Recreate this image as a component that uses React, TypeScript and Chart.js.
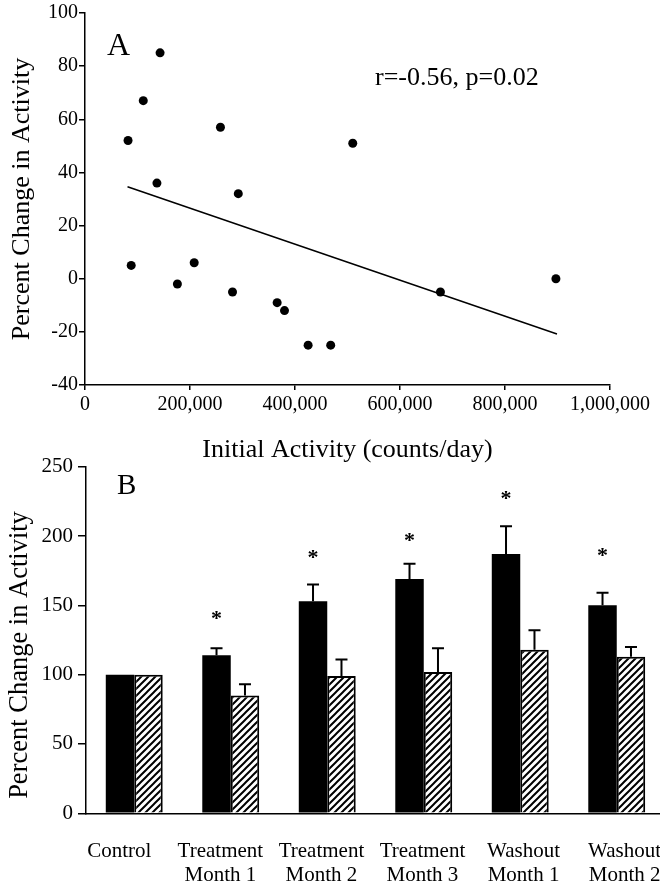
import React, { useEffect, useRef } from 'react';
import { Chart, registerables } from 'chart.js';

Chart.register(...registerables);

const SERIF = "'Liberation Serif', 'Times New Roman', Times, serif";
const INK = '#000';

// ---- Panel A: initial activity vs percent change ----
const initialActivity = [82000, 88000, 111000, 137000, 143000, 176000, 208000, 258000, 281000, 292000, 366000, 380000, 425000, 468000, 510000, 677000, 897000];
const percentChange = [52, 5, 67, 36, 85, -2, 6, 57, -5, 32, -9, -12, -25, -25, 51, -5, 0];
const fitLineX = [81000, 899000];
const fitLineY = [34.6, -20.8];
const activityTicks = [0, 200000, 400000, 600000, 800000, 1000000];
const changeTicksA = [-40, -20, 0, 20, 40, 60, 80, 100];
const correlationNote = 'r=-0.56, p=0.02';

// ---- Panel B: percent change by study period ----
const periods: string[][] = [
  ['Control'],
  ['Treatment', 'Month 1'],
  ['Treatment', 'Month 2'],
  ['Treatment', 'Month 3'],
  ['Washout', 'Month 1'],
  ['Washout', 'Month 2'],
];
const solidMean = [100, 114, 153, 169, 187, 150];
const solidErr = [0, 5, 12, 11, 20, 9];
const hatchedMean = [100, 85, 99, 102, 118, 113];
const hatchedErr = [0, 8, 12, 17, 14, 7];
const starLevel: (number | null)[] = [null, 143, 187, 199, 229, 188];
const changeTicksB = [0, 50, 100, 150, 200, 250];

type Note = {
  text: string;
  x: number;
  y: number;
  size: number;
  rotate?: boolean;
  align?: CanvasTextAlign;
  baseline?: CanvasTextBaseline;
};

function notesPlugin(id: string, notes: Note[]) {
  return {
    id,
    afterDraw(chart: Chart) {
      const { ctx } = chart;
      notes.forEach((n) => {
        ctx.save();
        ctx.fillStyle = INK;
        ctx.font = `${n.size}px ${SERIF}`;
        ctx.textAlign = n.align ?? 'left';
        ctx.textBaseline = n.baseline ?? 'alphabetic';
        ctx.translate(n.x, n.y);
        if (n.rotate) ctx.rotate(-Math.PI / 2);
        ctx.fillText(n.text, 0, 0);
        ctx.restore();
      });
    },
  };
}

const errorBarPlugin = {
  id: 'errorBars',
  afterDatasetsDraw(chart: Chart) {
    const { ctx } = chart;
    const yScale = chart.scales.y;
    const sets = [
      { means: solidMean, errs: solidErr },
      { means: hatchedMean, errs: hatchedErr },
    ];
    ctx.save();
    ctx.strokeStyle = INK;
    ctx.lineWidth = 2;
    sets.forEach((s, di) => {
      const bars = chart.getDatasetMeta(di).data as any[];
      bars.forEach((bar, i) => {
        const e = s.errs[i];
        if (!e) return;
        const yMean = yScale.getPixelForValue(s.means[i]);
        const yTop = yScale.getPixelForValue(s.means[i] + e);
        ctx.beginPath();
        ctx.moveTo(bar.x, yMean);
        ctx.lineTo(bar.x, yTop);
        ctx.moveTo(bar.x - 6, yTop);
        ctx.lineTo(bar.x + 6, yTop);
        ctx.stroke();
      });
    });
    ctx.restore();
  },
};

const starPlugin = {
  id: 'stars',
  afterDatasetsDraw(chart: Chart) {
    const { ctx } = chart;
    const yScale = chart.scales.y;
    const bars = chart.getDatasetMeta(0).data as any[];
    ctx.save();
    ctx.fillStyle = INK;
    ctx.font = `bold 22px ${SERIF}`;
    ctx.textAlign = 'center';
    ctx.textBaseline = 'alphabetic';
    const m = ctx.measureText('*');
    const mid = (m.actualBoundingBoxAscent - m.actualBoundingBoxDescent) / 2;
    starLevel.forEach((lvl, i) => {
      if (lvl == null) return;
      ctx.fillText('*', bars[i].x, yScale.getPixelForValue(lvl) + mid);
    });
    ctx.restore();
  },
};

function makeHatch(): CanvasPattern | string {
  const c = document.createElement('canvas');
  c.width = 7;
  c.height = 7;
  const g = c.getContext('2d');
  if (!g) return '#fff';
  g.fillStyle = '#fff';
  g.fillRect(0, 0, 7, 7);
  g.strokeStyle = INK;
  g.lineWidth = 2;
  g.beginPath();
  g.moveTo(0, 7);
  g.lineTo(7, 0);
  g.moveTo(-1, 1);
  g.lineTo(1, -1);
  g.moveTo(6, 8);
  g.lineTo(8, 6);
  g.stroke();
  return g.createPattern(c, 'repeat') ?? '#fff';
}

const tickFont = (size: number) => ({ family: SERIF, size });

export default function App() {
  const refA = useRef<HTMLCanvasElement>(null);
  const refB = useRef<HTMLCanvasElement>(null);

  useEffect(() => {
    const chartA = new Chart(refA.current!, {
      type: 'scatter',
      data: {
        datasets: [
          {
            data: initialActivity.map((x, i) => ({ x, y: percentChange[i] })),
            pointRadius: 4.5,
            pointHoverRadius: 4.5,
            backgroundColor: INK,
            borderColor: INK,
            borderWidth: 0,
          },
          {
            type: 'line',
            data: fitLineX.map((x, i) => ({ x, y: fitLineY[i] })),
            borderColor: INK,
            borderWidth: 1.5,
            pointRadius: 0,
            fill: false,
          } as any,
        ],
      },
      options: {
        responsive: false,
        animation: false,
        events: [],
        layout: { padding: { top: 13, right: 50, left: 0, bottom: 0 } },
        plugins: { legend: { display: false }, tooltip: { enabled: false } },
        scales: {
          x: {
            type: 'linear',
            min: 0,
            max: 1000000,
            afterBuildTicks: (s: any) => {
              s.ticks = activityTicks.map((value) => ({ value }));
            },
            afterFit: (s: any) => {
              s.height = 85;
            },
            grid: { drawOnChartArea: false, drawTicks: true, tickLength: 5, color: INK, lineWidth: 1.5 },
            border: { display: true, color: INK, width: 1.5 },
            ticks: {
              autoSkip: false,
              maxRotation: 0,
              padding: 3,
              color: INK,
              font: tickFont(20),
              callback: (v: any) => Number(v).toLocaleString('en-US'),
            },
            title: {
              display: true,
              text: 'Initial Activity (counts/day)',
              color: INK,
              font: { family: SERIF, size: 26 },
              padding: { top: 0, bottom: 4 },
            },
          },
          y: {
            type: 'linear',
            min: -40,
            max: 100,
            afterBuildTicks: (s: any) => {
              s.ticks = changeTicksA.map((value) => ({ value }));
            },
            afterFit: (s: any) => {
              s.width = 85;
            },
            grid: { drawOnChartArea: false, drawTicks: true, tickLength: 6, color: INK, lineWidth: 1.5 },
            border: { display: true, color: INK, width: 1.5 },
            ticks: { padding: 1, color: INK, font: tickFont(20) },
            title: {
              display: true,
              text: 'Percent Change in Activity',
              color: INK,
              font: { family: SERIF, size: 26 },
              padding: { top: 7, bottom: 0 },
            },
          },
        },
      },
      plugins: [
        notesPlugin('notesA', [
          { text: 'A', x: 107, y: 55, size: 32 },
          { text: correlationNote, x: 375, y: 85, size: 26 },
        ]),
      ],
    });

    const hatch = makeHatch();
    const chartB = new Chart(refB.current!, {
      type: 'bar',
      data: {
        labels: periods.map((p) => p.join(' ')),
        datasets: [
          {
            data: solidMean,
            backgroundColor: INK,
            borderWidth: 0,
            categoryPercentage: 0.59,
            barPercentage: 1,
          },
          {
            data: hatchedMean,
            backgroundColor: hatch as any,
            borderColor: INK,
            borderWidth: 2,
            categoryPercentage: 0.59,
            barPercentage: 1,
          },
        ],
      },
      options: {
        responsive: false,
        animation: false,
        events: [],
        layout: { padding: { top: 26.7, right: 15, left: 0, bottom: 0 } },
        plugins: { legend: { display: false }, tooltip: { enabled: false } },
        scales: {
          x: { type: 'category', display: false },
          // period names sit on their own axis so they can be spaced independently of the bars
          periodAxis: {
            type: 'linear',
            position: 'bottom',
            offset: false,
            min: -0.33,
            max: 5.4,
            afterBuildTicks: (s: any) => {
              s.ticks = periods.map((_, value) => ({ value }));
            },
            afterFit: (s: any) => {
              s.height = 68.7;
            },
            // hidden tick marks only reserve the gap between the axis line and the names
            grid: { display: false, drawTicks: true, tickLength: 24, offset: false },
            border: { display: true, color: INK, width: 1.5 },
            ticks: {
              autoSkip: false,
              maxRotation: 0,
              padding: 2,
              color: INK,
              font: { family: SERIF, size: 21, lineHeight: 1.14 },
              callback: (v: any) => periods[Number(v)] ?? '',
            },
          } as any,
          y: {
            type: 'linear',
            min: 0,
            max: 250,
            afterBuildTicks: (s: any) => {
              s.ticks = changeTicksB.map((value) => ({ value }));
            },
            afterFit: (s: any) => {
              s.width = 86;
            },
            grid: { drawOnChartArea: false, drawTicks: true, tickLength: 8, color: INK, lineWidth: 1.5 },
            border: { display: true, color: INK, width: 1.5 },
            ticks: { padding: 5, color: INK, font: tickFont(21) },
          },
        },
      },
      plugins: [
        errorBarPlugin,
        starPlugin,
        notesPlugin('notesB', [
          { text: 'B', x: 117, y: 54, size: 29 },
          { text: 'Percent Change in Activity', x: 20, y: 215, size: 26.5, rotate: true, align: 'center', baseline: 'middle' },
        ]),
      ],
    });

    return () => {
      chartA.destroy();
      chartB.destroy();
    };
  }, []);

  return (
    <div
      style={{
        position: 'absolute',
        left: 0,
        top: 0,
        width: 660,
        height: 882,
        overflow: 'hidden',
        background: '#fff',
      }}
    >
      <canvas
        ref={refA}
        width={660}
        height={470}
        style={{ position: 'absolute', left: 0, top: 0, width: 660, height: 470 }}
      />
      <canvas
        ref={refB}
        width={680}
        height={442}
        style={{ position: 'absolute', left: 0, top: 440, width: 680, height: 442 }}
      />
    </div>
  );
}
